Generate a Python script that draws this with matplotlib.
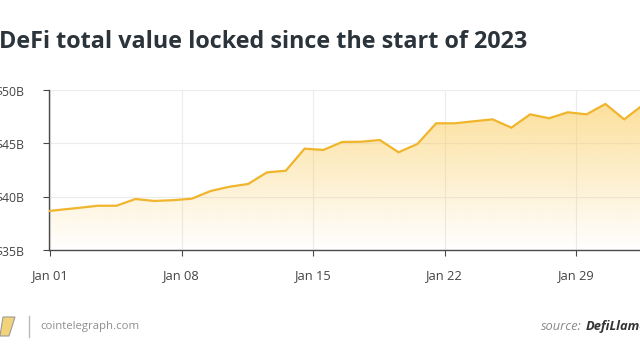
import numpy as np
import pandas as pd
import matplotlib
matplotlib.use("Agg")
import matplotlib.pyplot as plt
import matplotlib.dates as mdates
from matplotlib.patches import Polygon

# TVL in billions of USD, one reading per day
dates = pd.date_range("2022-12-31 13:00", periods=33, freq="D")
tvl = [38.58, 38.77, 38.95, 39.15, 39.15, 39.78, 39.60, 39.67, 39.81, 40.53,
       40.93, 41.19, 42.28, 42.43, 44.50, 44.38, 45.13, 45.15, 45.31, 44.16,
       44.94, 46.88, 46.88, 47.07, 47.25, 46.47, 47.72, 47.35, 47.91, 47.72,
       48.69, 47.25, 48.60]
y_ticks = [35, 40, 45, 50]
y_labels = ["$35B", "$40B", "$45B", "$50B"]
x_ticks = ["2023-01-01", "2023-01-08", "2023-01-15", "2023-01-22", "2023-01-29"]
x_labels = ["Jan 01", "Jan 08", "Jan 15", "Jan 22", "Jan 29"]

plt.rcParams['font.family'] = ['Open Sans', 'DejaVu Sans']

W, H = 640, 360
fig = plt.figure(figsize=(6.4, 3.6), dpi=100)
ax = fig.add_axes([49 / W, 1 - 250 / H, 1 - 49 / W, 160 / H])

x = mdates.date2num(dates)
y = np.array(tvl)
t0 = mdates.date2num(pd.Timestamp("2023-01-01"))
px_day = 18.8
ax.set_xlim(t0 - 1 / px_day, t0 + (640 - 50) / px_day)
ax.set_ylim(35, 50)

# gradient fill under the line
grad = np.linspace(0, 0.62, 256).reshape(-1, 1)
rgba = np.zeros((256, 1, 4))
rgba[..., 0] = 250 / 255
rgba[..., 1] = 200 / 255
rgba[..., 2] = 80 / 255
rgba[..., 3] = grad
x0, x1 = ax.get_xlim()
im = ax.imshow(rgba, aspect='auto', origin='lower', extent=[x0, x1, 35, 50],
               zorder=1, interpolation='bilinear')
poly = Polygon(np.column_stack([np.r_[x[0], x, x[-1]], np.r_[35, y, 35]]),
               closed=True, facecolor='none', edgecolor='none')
ax.add_patch(poly)
im.set_clip_path(poly)

ax.plot(x, y, color='#f0b52c', lw=1.6, zorder=3, solid_joinstyle='miter')

ax.set_yticks(y_ticks)
ax.set_yticklabels(y_labels)
ax.set_xticks(mdates.date2num(pd.to_datetime(x_ticks)))
ax.set_xticklabels(x_labels)
ax.grid(True, color='#ececec', lw=0.8, zorder=0)
ax.set_axisbelow(True)

for s in ['top', 'right']:
    ax.spines[s].set_visible(False)
for s in ['left', 'bottom']:
    ax.spines[s].set_color('#4a4a4a')
    ax.spines[s].set_linewidth(1.0)
ax.tick_params(axis='y', length=4, color='#4a4a4a', pad=13.5,
               labelsize=8.8, labelcolor='#444444')
ax.tick_params(axis='x', length=4, color='#4a4a4a', pad=10,
               labelsize=9.3, labelcolor='#444444')

fig.text(-0.002, 1 - 48 / H, "DeFi total value locked since the start of 2023",
         fontsize=16.8, fontweight='bold', color='#2b333b', va='baseline')

# footer
fy = 1 - 326.5 / H
fig.patches.append(Polygon([[3 / W, 1 - 317 / H], [15 / W, 1 - 317 / H],
                            [9 / W, 1 - 336 / H], [0 / W, 1 - 336 / H]],
                           closed=True, transform=fig.transFigure,
                           facecolor='#f3d37a', edgecolor='#9a9a9a', lw=0.8))
fig.add_artist(plt.Line2D([28.6 / W, 28.6 / W], [1 - 316 / H, 1 - 337 / H],
                          color='#bbbbbb', lw=1.0))
fig.text(40.5 / W, fy, "cointelegraph.com", fontsize=8.2, color='#8f8f8f',
         va='center', ha='left')
fig.text(541 / W, fy, "source:", fontsize=9.3, color='#8a8a8a',
         style='italic', va='center', ha='left')
fig.text(586 / W, fy, "DefiLlama", fontsize=9.3, color='#333333',
         style='italic', fontweight='bold', va='center', ha='left')

fig.savefig("out.png", dpi=100)
